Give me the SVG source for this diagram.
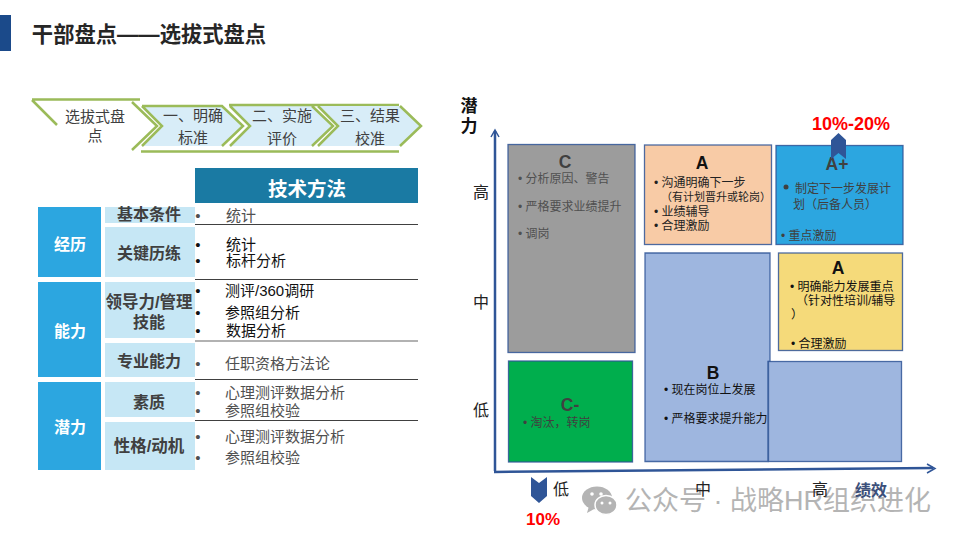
<svg xmlns="http://www.w3.org/2000/svg" width="960" height="540" viewBox="0 0 960 540">
<style>
text{font-family:"Liberation Sans","Noto Sans CJK SC",sans-serif;text-anchor:middle}
.l{text-anchor:start}
.g{stroke:#9bbb59;stroke-width:2.5;fill:none}
.chev{fill:#d8edf8}
.st{font-size:15px;fill:#404040}
.cat{fill:#2ca6e0}
.cat2{fill:#c6e7f5}
.catT{font-size:16px;font-weight:700;fill:#fff}
.subT{font-size:16px;font-weight:700;fill:#404040}
.m{font-size:15px;fill:#505050}
.md{font-size:15px;fill:#111}
.box{stroke:#2f5597;stroke-opacity:.85;stroke-width:1.3}
.tx{font-size:12px}
.h{font-size:17.5px;font-weight:700}
.ax{font-size:16px;fill:#222}
.red{font-weight:700;fill:#f00}
.line{stroke:#404040;stroke-width:1}
</style>
<g id="title">
<rect x="0" y="15" width="11" height="36" fill="#1b4a8a"/>
<text x="149" y="42" style="font-size:21.300px;font-weight:700;fill:#262626">干部盘点——选拔式盘点</text>
</g>
<g id="steps">
<g id="step0">
<path class="g" d="M32 99.500H140M32 100L57 125M132 102L157 126L132 150"/>
<text class="st" x="95" y="122">选拔式盘</text><text class="st" x="95" y="141">点</text>
</g>
<g id="step1">
<path class="chev" d="M142 106H222L244 126L222 146H142L162 126Z"/>
<path class="g" d="M142 106H222L243 126L222 146M142 106L162 126L142 146M141 151.500H399"/>
<text class="st" x="193" y="121">一、明确</text><text class="st" x="193" y="143">标准</text>
</g>
<g id="step2">
<path class="chev" d="M230 106H312L334 126L312 146H230L250 126Z"/>
<path class="g" d="M229 105H399M230 106L250 126L230 146M312 106L333 126L312 146"/>
<text class="st" x="282" y="121">二、实施</text><text class="st" x="282" y="144">评价</text>
</g>
<g id="step3">
<path class="chev" d="M318 106H400L421 126L400 146H318L338 126Z"/>
<path class="g" d="M318 106L338 126L318 146M400 106L421 126L400 146"/>
<text class="st" x="370" y="121">三、结果</text><text class="st" x="370" y="144">校准</text>
</g>
</g>
<g id="table">
<g id="header"><rect x="195" y="168" width="223" height="35" fill="#1a7aa3"/><text x="307" y="196" style="font-size:19.500px;font-weight:700;fill:#fff">技术方法</text></g>
<g id="cat-jingli"><rect class="cat" x="38" y="207" width="63" height="70"/><text class="catT" x="70" y="250">经历</text></g>
<g id="cat-nengli"><rect class="cat" x="38" y="282" width="63" height="95"/><text class="catT" x="70" y="337">能力</text></g>
<g id="cat-qianli"><rect class="cat" x="38" y="382" width="63" height="88"/><text class="catT" x="70" y="433">潜力</text></g>
<g id="sub1"><rect class="cat2" x="105" y="207" width="90" height="16"/><text class="subT" x="149" y="220">基本条件</text></g>
<g id="sub2"><rect class="cat2" x="105" y="227" width="90" height="50"/><text class="subT" x="149" y="259">关键历练</text></g>
<g id="sub3"><rect class="cat2" x="105" y="282" width="90" height="56"/><text class="subT" x="149" y="308" style="font-size:16.500px">领导力/管理</text><text class="subT" x="149" y="328">技能</text></g>
<g id="sub4"><rect class="cat2" x="105" y="343" width="90" height="34"/><text class="subT" x="149" y="367">专业能力</text></g>
<g id="sub5"><rect class="cat2" x="105" y="382" width="90" height="35"/><text class="subT" x="149" y="408">素质</text></g>
<g id="sub6"><rect class="cat2" x="105" y="422" width="90" height="48"/><text class="subT" x="149" y="452" style="font-size:16.500px">性格/动机</text></g>
<path class="line" d="M195 224.500H418M195 279.500H418M195 379.500H418M195 420.500H418"/>
<path d="M195 341H418" stroke="#999" stroke-width="1.500"/>
<g id="methods">
<text class="m l" x="226" y="221">统计</text><text class="m" x="198" y="221">•</text>
<text class="md l" x="226" y="250">统计</text><text class="md" x="198" y="250">•</text>
<text class="md l" x="226" y="266">标杆分析</text><text class="md" x="198" y="266">•</text>
<text class="md l" x="225" y="296">测评/360调研</text><text class="md" x="198" y="296">•</text>
<text class="md l" x="225" y="318">参照组分析</text><text class="md" x="198" y="318">•</text>
<text class="md l" x="226" y="336">数据分析</text><text class="md" x="198" y="336">•</text>
<text class="m l" x="225" y="369">任职资格方法论</text><text class="m" x="198" y="369">•</text>
<text class="m l" x="225" y="398">心理测评数据分析</text><text class="m" x="198" y="398">•</text>
<text class="m l" x="225" y="416">参照组校验</text><text class="m" x="198" y="416">•</text>
<text class="m l" x="225" y="442">心理测评数据分析</text><text class="m" x="198" y="442">•</text>
<text class="m l" x="225" y="463">参照组校验</text><text class="m" x="198" y="463">•</text>
</g>
</g>
<g id="connectors" fill="none" stroke="#2f5597" stroke-width="2.500">
<path d="M495 471V131"/>
<path d="M491 137L495 130L499 137" stroke-width="1.500"/>
<path d="M494 472L933 468"/>
<path d="M927 464L935 468.500L927 473" stroke-width="1.500"/>
</g>
<g id="box-c">
<rect class="box" x="508" y="144.500" width="127" height="208" fill="#9c9c9c"/>
<text class="h" x="565" y="168" fill="#404040">C</text>
<text class="tx l" x="518" y="183" fill="#505050">• 分析原因、警告</text>
<text class="tx l" x="518" y="211" fill="#505050">• 严格要求业绩提升</text>
<text class="tx l" x="518" y="238" fill="#505050">• 调岗</text>
</g>
<g id="box-a1">
<rect class="box" x="644.500" y="145" width="127" height="99.500" fill="#f8cba6"/>
<text class="h" x="702" y="169" fill="#111">A</text>
<text class="tx l" x="654" y="187" fill="#222">• 沟通明确下一步</text>
<text class="l" x="661" y="201" fill="#222" style="font-size:11px">（有计划晋升或轮岗）</text>
<text class="tx l" x="654" y="216" fill="#222">• 业绩辅导</text>
<text class="tx l" x="654" y="230" fill="#222">• 合理激励</text>
</g>
<g id="box-aplus">
<rect class="box" x="776" y="145.500" width="127" height="99" fill="#2ca6e0"/>
<text class="h" x="837" y="170" fill="#404040">A+</text>
<circle cx="786" cy="187" r="2.500" fill="#404040"/>
<text class="tx l" x="795" y="193" fill="#404040">制定下一步发展计</text>
<text class="tx l" x="793" y="209" fill="#404040">划（后备人员）</text>
<text class="tx l" x="781" y="240" fill="#404040">• 重点激励</text>
</g>
<g id="box-b">
<path class="box" d="M645 253H770V361.500H768V461.500H645Z" fill="#9eb6df"/>
<rect class="box" x="768.500" y="361.500" width="133" height="100" fill="#9eb6df"/>
<text class="h" x="713" y="379" fill="#111">B</text>
<text class="tx l" x="664" y="394" fill="#111">• 现在岗位上发展</text>
<text class="tx l" x="664" y="423" fill="#111">• 严格要求提升能力</text>
</g>
<g id="box-a2">
<rect class="box" x="778.500" y="253" width="124" height="97.500" fill="#f5da7a"/>
<text class="h" x="838" y="274" fill="#111">A</text>
<text class="tx l" x="790" y="291" fill="#111">• 明确能力发展重点</text>
<text class="tx l" x="796" y="305" fill="#111">（针对性培训/辅导</text>
<text class="tx l" x="791" y="319" fill="#111">）</text>
<text class="tx l" x="791" y="348" fill="#111">• 合理激励</text>
</g>
<g id="box-cminus">
<rect class="box" x="508.500" y="361" width="124" height="101" fill="#00ae4d"/>
<text class="h" x="570" y="411" fill="#404040">C-</text>
<text class="tx l" x="523" y="427" fill="#404040">• 淘汰，转岗</text>
</g>
<g id="marker-top">
<path d="M831 140L838.500 133L846 140V159L838.500 153L831 159Z" fill="#2f5597"/>
<text class="red" x="851" y="130" style="font-size:18px">10%-20%</text>
</g>
<g id="marker-bottom">
<path d="M531 477L539 483L547 477V496L539 503L531 496Z" fill="#2f5597"/>
<text class="red" x="543" y="525" style="font-size:17px">10%</text>
</g>
<g id="watermark" fill="#b4b4b4">
<ellipse cx="597" cy="498" rx="15" ry="11.500"/>
<path d="M589 506L587 513L596 508Z"/>
<ellipse cx="606" cy="505" rx="11" ry="9.500" stroke="#fff" stroke-width="1.500"/>
<circle cx="592" cy="494" r="1.800" fill="#fff"/><circle cx="601" cy="494" r="1.800" fill="#fff"/>
<circle cx="602" cy="503" r="1.500" fill="#fff"/><circle cx="610" cy="503" r="1.500" fill="#fff"/>
<text x="778" y="510" style="font-size:27px;fill:#b4b4b4">公众号 · 战略HR组织进化</text>
</g>
<g id="axis-labels">
<text x="469" y="112" style="font-size:17px;font-weight:700;fill:#111">潜</text>
<text x="469" y="132" style="font-size:17px;font-weight:700;fill:#111">力</text>
<text class="ax" x="481" y="198">高</text>
<text class="ax" x="481" y="308">中</text>
<text class="ax" x="481" y="416">低</text>
<text class="ax" x="561" y="495">低</text>
<text class="ax" x="703" y="495">中</text>
<text class="ax" x="820" y="495">高</text>
<text x="871" y="496" style="font-size:16px;font-weight:700;fill:#3b4f7a">绩效</text>
</g>
</svg>
